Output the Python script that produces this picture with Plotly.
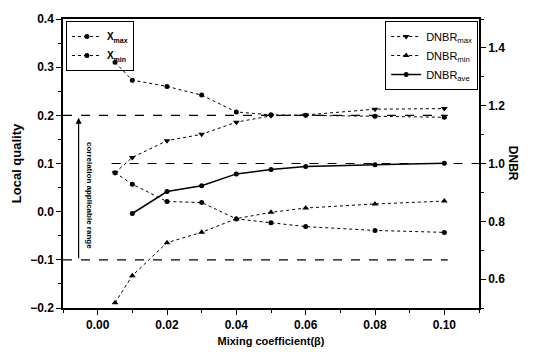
import plotly.graph_objects as go

beta = [0.005, 0.01, 0.02, 0.03, 0.04, 0.05, 0.06, 0.08, 0.10]
x_max = [0.310, 0.273, 0.260, 0.242, 0.207, 0.201, 0.200, 0.198, 0.196]
x_min = [0.081, 0.057, 0.021, 0.019, -0.015, -0.023, -0.031, -0.039, -0.043]
dnbr_max = [0.968, 1.021, 1.079, 1.101, 1.143, 1.165, 1.168, 1.188, 1.190]
dnbr_min = [0.518, 0.612, 0.726, 0.762, 0.809, 0.831, 0.846, 0.860, 0.870]
beta_ave = [0.01, 0.02, 0.03, 0.04, 0.05, 0.06, 0.08, 0.10]
dnbr_ave = [0.827, 0.903, 0.923, 0.964, 0.979, 0.990, 0.996, 1.001]

x_ticks = [0.00, 0.02, 0.04, 0.06, 0.08, 0.10]
left_ticks = [-0.2, -0.1, 0.0, 0.1, 0.2, 0.3, 0.4]
right_ticks = [0.6, 0.8, 1.0, 1.2, 1.4]

FONT = "Liberation Sans, Arial, sans-serif"
fig = go.Figure()

fig.add_trace(go.Scatter(x=beta, y=x_max, mode="lines+markers", name="<b>X<sub>max</sub></b>",
                         line=dict(color="black", width=1, dash="dot"),
                         marker=dict(symbol="circle", size=5, color="black"), legend="legend"))
fig.add_trace(go.Scatter(x=beta, y=x_min, mode="lines+markers", name="<b>X<sub>min</sub></b>",
                         line=dict(color="black", width=1, dash="dot"),
                         marker=dict(symbol="circle", size=5, color="black"), legend="legend"))
fig.add_trace(go.Scatter(x=beta, y=dnbr_max, mode="lines+markers", name="DNBR<sub>max</sub>",
                         line=dict(color="black", width=1, dash="dot"),
                         marker=dict(symbol="triangle-down", size=6, color="black"),
                         yaxis="y2", legend="legend2"))
fig.add_trace(go.Scatter(x=beta, y=dnbr_min, mode="lines+markers", name="DNBR<sub>min</sub>",
                         line=dict(color="black", width=1, dash="dot"),
                         marker=dict(symbol="triangle-up", size=6, color="black"),
                         yaxis="y2", legend="legend2"))
fig.add_trace(go.Scatter(x=beta_ave, y=dnbr_ave, mode="lines+markers", name="DNBR<sub>ave</sub>",
                         line=dict(color="black", width=1.5),
                         marker=dict(symbol="circle", size=5, color="black"),
                         yaxis="y2", legend="legend2"))

# reference dashed lines
for y0, xa, xb in [(0.2, -0.01, 0.101), (0.1, 0.004, 0.11), (-0.1, -0.01, 0.101)]:
    fig.add_shape(type="line", x0=xa, x1=xb, y0=y0, y1=y0, xref="x", yref="y",
                  line=dict(color="black", width=1.2, dash="dash"))

fig.add_annotation(x=-0.0055, y=0.195, ax=-0.0055, ay=-0.1, xref="x", yref="y",
                   axref="x", ayref="y", showarrow=True, arrowhead=2, arrowsize=1,
                   arrowwidth=1.2, arrowcolor="black", text="")
fig.add_annotation(x=-0.0024, y=0.034, xref="x", yref="y", text="<b>correlation applicable range</b>",
                   textangle=90, showarrow=False, font=dict(family=FONT, size=8, color="black"))
fig.add_annotation(x=1.105, y=0.5, xref="paper", yref="paper", text="<b>DNBR</b>", textangle=90,
                   showarrow=False, font=dict(family=FONT, size=12, color="black"))

axis_common = dict(showline=True, linecolor="black", linewidth=1.5, ticks="outside",
                   tickcolor="black", ticklen=5, tickwidth=1.2, showgrid=False, zeroline=False,
                   tickfont=dict(family=FONT, size=12, color="black", weight="bold"))

fig.update_layout(
    width=534, height=358,
    margin=dict(l=63, r=55, t=12, b=46),
    paper_bgcolor="white", plot_bgcolor="white",
    font=dict(family=FONT, color="black"),
    xaxis=dict(range=[-0.01, 0.11], tickvals=x_ticks, tickformat=".2f", mirror=True,
               minor=dict(dtick=0.01, ticks="outside", ticklen=3, tickcolor="black"),
               title=dict(text="Mixing coefficient(β)", font=dict(family=FONT, size=11, weight="bold"), standoff=6),
               **axis_common),
    yaxis=dict(range=[-0.2, 0.4], tickvals=left_ticks, tickformat=".1f",
               minor=dict(dtick=0.05, ticks="outside", ticklen=3, tickcolor="black"),
               title=dict(text="Local quality", font=dict(family=FONT, size=13, weight="bold"), standoff=6),
               **axis_common),
    yaxis2=dict(range=[0.5, 1.5], tickvals=right_ticks, tickformat=".1f", overlaying="y",
                side="right",
                minor=dict(dtick=0.1, ticks="outside", ticklen=3, tickcolor="black"),
                **axis_common),
    legend=dict(x=0.007, y=0.993, xanchor="left", yanchor="top", bordercolor="black",
                borderwidth=1, bgcolor="rgba(255,255,255,0)", font=dict(family=FONT, size=10),
                tracegroupgap=0, itemwidth=30),
    legend2=dict(x=0.998, y=0.993, xanchor="right", yanchor="top", bordercolor="black",
                 borderwidth=1, bgcolor="white", font=dict(family=FONT, size=11),
                 tracegroupgap=0, itemwidth=30),
)

fig.write_html("out.html")
